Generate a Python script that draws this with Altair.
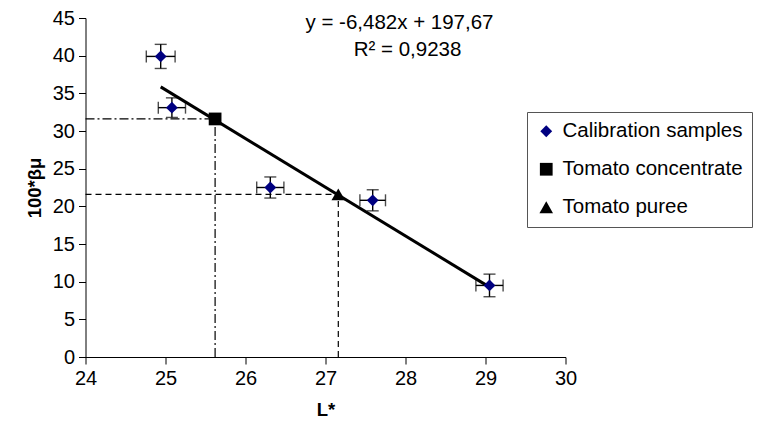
import altair as alt
import pandas as pd

# ---- data ----
series_names = ["Calibration samples", "Tomato concentrate", "Tomato puree"]
calib_L = [24.94, 25.08, 26.31, 27.59, 29.05]
calib_beta = [39.9, 33.1, 22.5, 20.8, 9.5]
calib_L_err = [0.18, 0.17, 0.17, 0.16, 0.17]
calib_beta_err = [1.6, 1.3, 1.4, 1.4, 1.5]
sample_L = [25.62, 27.16]
sample_beta = [31.6, 21.6]
guide_kinds = ["concentrate", "puree"]
x_ticks = [24, 25, 26, 27, 28, 29, 30]
y_ticks = [0, 5, 10, 15, 20, 25, 30, 35, 40, 45]
equation_lines = ["y = -6,482x + 197,67", "R² = 0,9238"]
x_title = "L*"
y_title = "100*βμ"

FONT = "Liberation Sans"

calib = pd.DataFrame({
    "L": calib_L,
    "beta": calib_beta,
    "Llo": [v - e for v, e in zip(calib_L, calib_L_err)],
    "Lhi": [v + e for v, e in zip(calib_L, calib_L_err)],
    "blo": [v - e for v, e in zip(calib_beta, calib_beta_err)],
    "bhi": [v + e for v, e in zip(calib_beta, calib_beta_err)],
})

points = pd.DataFrame({
    "series": [series_names[0]] * len(calib_L) + series_names[1:],
    "L": calib_L + sample_L,
    "beta": calib_beta + sample_beta,
})

guides = pd.DataFrame({
    "kind": guide_kinds + guide_kinds,
    "x": [x_ticks[0]] * 2 + sample_L,
    "x2": sample_L + sample_L,
    "y": sample_beta + [y_ticks[0]] * 2,
    "y2": sample_beta + sample_beta,
})

xs = alt.Scale(domain=[x_ticks[0], x_ticks[-1]], nice=False, zero=False)
ys = alt.Scale(domain=[y_ticks[0], y_ticks[-1]], nice=False)

x_axis = alt.Axis(values=x_ticks, title=x_title, format="d", labelFlush=False)
y_axis = alt.Axis(values=y_ticks, title=y_title, format="d", labelFlush=False)

guide_layer = alt.Chart(guides).mark_rule(color="black", strokeWidth=1.2).encode(
    x=alt.X("x:Q", scale=xs, axis=x_axis),
    x2="x2:Q",
    y=alt.Y("y:Q", scale=ys, axis=y_axis),
    y2="y2:Q",
    strokeDash=alt.StrokeDash(
        "kind:N",
        scale=alt.Scale(domain=guide_kinds, range=[[9, 3, 2, 3], [6, 4]]),
        legend=None,
    ),
)

h_err = alt.Chart(calib).mark_errorbar(ticks={"size": 12}, color="black", thickness=1.4).encode(
    x=alt.X("Llo:Q", scale=xs, axis=x_axis),
    x2="Lhi:Q",
    y=alt.Y("beta:Q", scale=ys, axis=y_axis),
)

v_err = alt.Chart(calib).mark_errorbar(ticks={"size": 12}, color="black", thickness=1.4).encode(
    y=alt.Y("blo:Q", scale=ys, axis=y_axis),
    y2="bhi:Q",
    x=alt.X("L:Q", scale=xs, axis=x_axis),
)

fit = alt.Chart(calib).transform_regression("L", "beta").mark_line(
    color="black", strokeWidth=3
).encode(
    x=alt.X("L:Q", scale=xs, axis=x_axis),
    y=alt.Y("beta:Q", scale=ys, axis=y_axis),
)

pts = alt.Chart(points).mark_point(filled=True, opacity=1, strokeWidth=0).encode(
    x=alt.X("L:Q", scale=xs, axis=x_axis),
    y=alt.Y("beta:Q", scale=ys, axis=y_axis),
    shape=alt.Shape("series:N", title=None,
                    scale=alt.Scale(domain=series_names, range=["diamond", "square", "triangle-up"])),
    color=alt.Color("series:N", title=None,
                    scale=alt.Scale(domain=series_names, range=["#000080", "#000000", "#000000"])),
    size=alt.Size("series:N", title=None,
                  scale=alt.Scale(domain=series_names, range=[140, 185, 210])),
)

eq_df = pd.DataFrame({"t": [equation_lines[0]]})
r2_df = pd.DataFrame({"t": [equation_lines[1]]})
eq = alt.Chart(eq_df).mark_text(font=FONT, fontSize=20.5, color="black").encode(
    text="t:N", x=alt.value(314), y=alt.value(5))
r2 = alt.Chart(r2_df).mark_text(font=FONT, fontSize=20.5, color="black").encode(
    text="t:N", x=alt.value(322), y=alt.value(32))

chart = alt.layer(guide_layer, h_err, v_err, fit, pts, eq, r2).properties(
    width=480, height=339,
    autosize=alt.AutoSizeParams(type="none"),
    padding={"left": 77.5, "top": 10, "right": 190, "bottom": 66},
).configure_view(stroke=None).configure_axis(
    grid=False,
    domainColor="black",
    tickColor="black",
    tickSize=7,
    labelFont=FONT,
    labelFontSize=20,
    labelColor="black",
    labelPadding=4,
    titleFont=FONT,
    titleFontSize=18.5,
    titleFontWeight="bold",
    titleColor="black",
).configure_axisY(titlePadding=8).configure_axisX(titlePadding=12).configure_legend(
    orient="none",
    legendX=441.5,
    legendY=94,
    strokeColor="#555555",
    padding=9,
    rowPadding=17,
    labelFont=FONT,
    labelFontSize=20.5,
    labelColor="black",
    labelLimit=400,
    symbolStrokeWidth=0,
    labelOffset=6,
)

chart.save("out.html", embed_options={"renderer": "svg", "actions": False})
